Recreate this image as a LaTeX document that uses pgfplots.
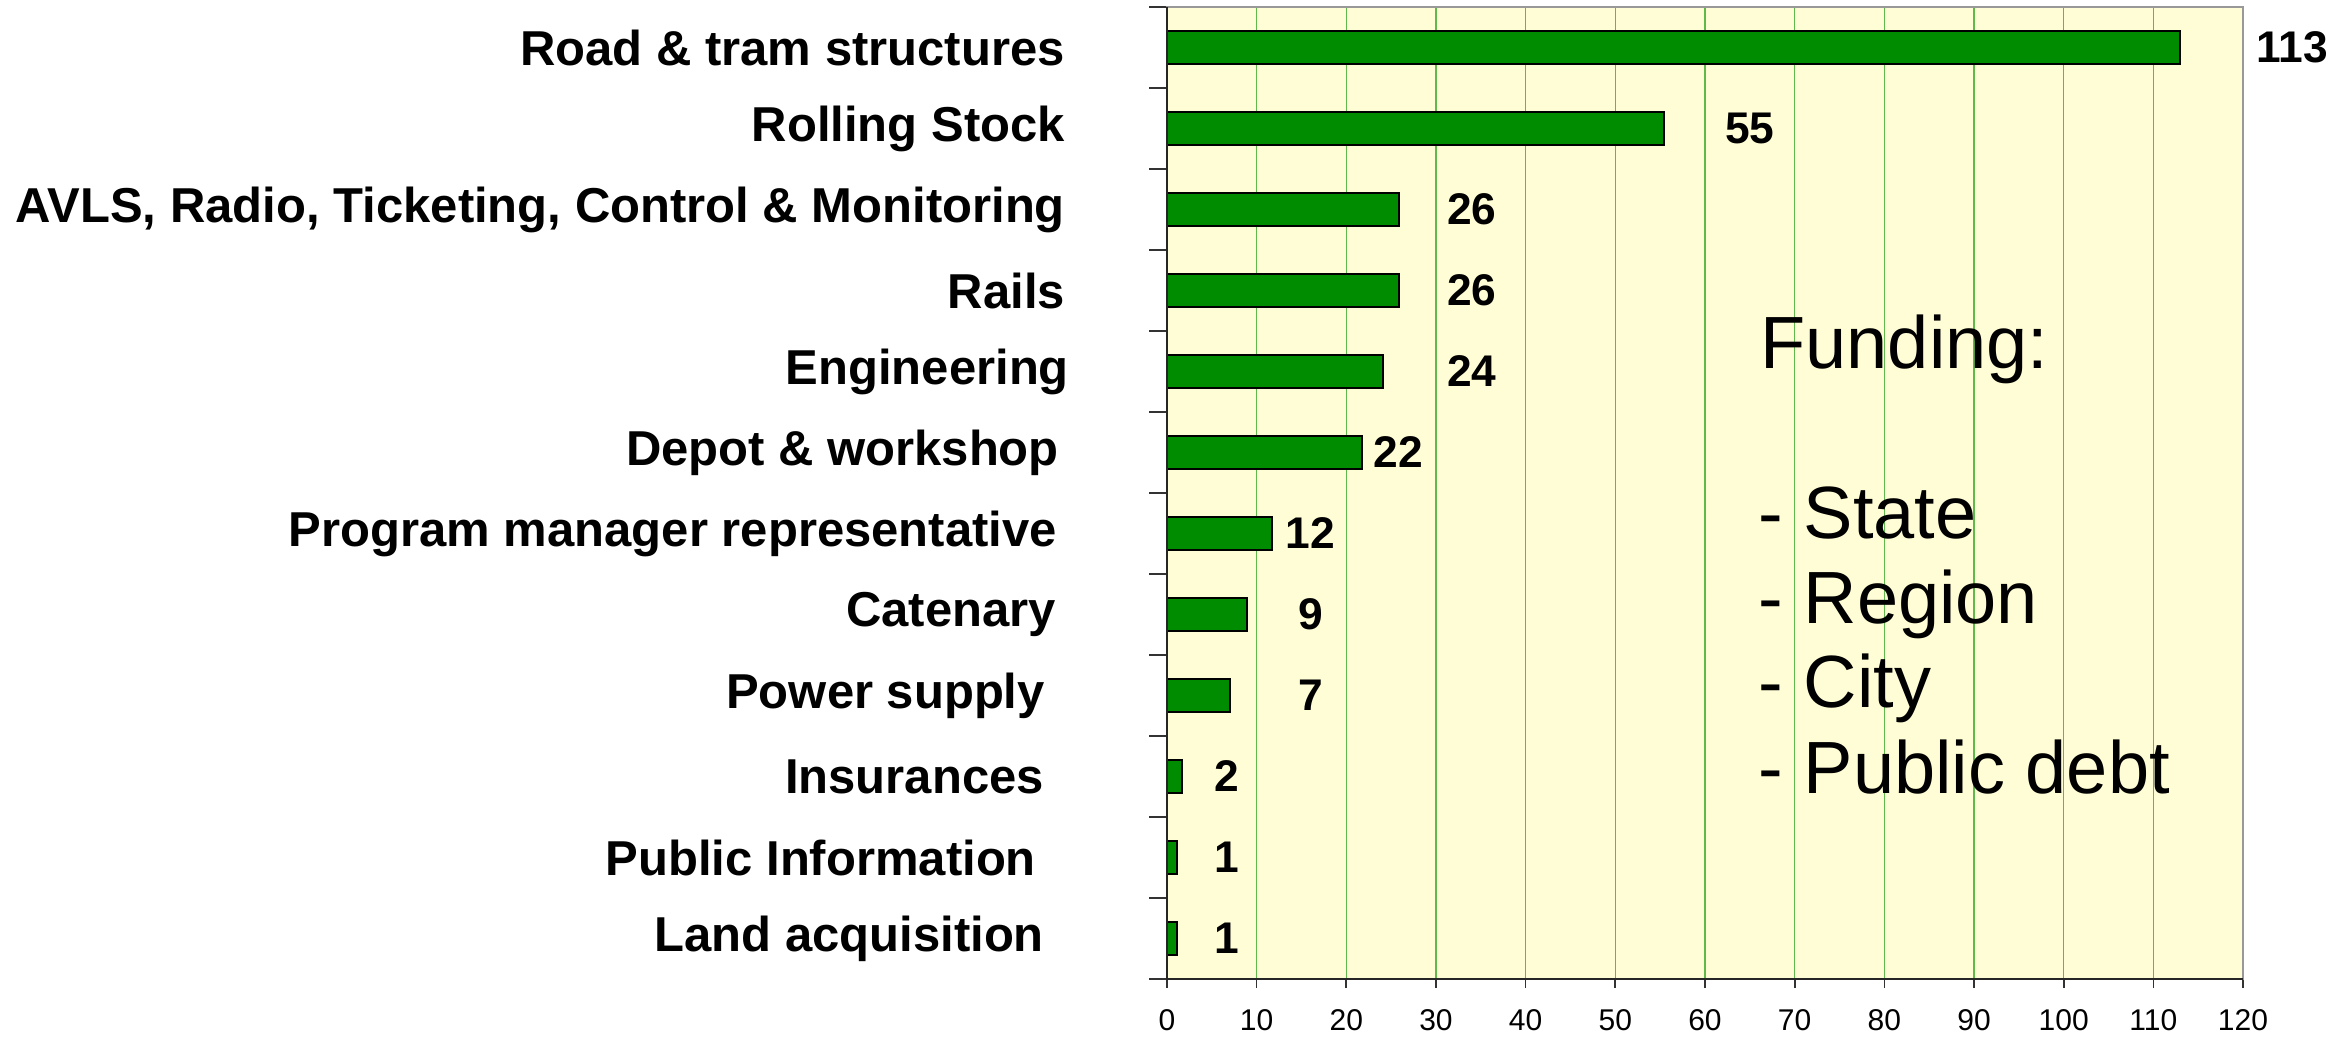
\documentclass[border=0pt]{standalone}
\usepackage{pgfplots}
\pgfplotsset{compat=1.18}
\usepackage{fontspec}
\setmainfont{Liberation Sans}
\definecolor{barg}{RGB}{0,140,0}
\definecolor{bgy}{RGB}{255,253,213}
\definecolor{gridg}{RGB}{95,185,75}
\newcommand{\tr}[1]{\rule{#1}{0pt}}
\begin{document}
\begin{tikzpicture}
\begin{axis}[
  scale only axis,
  width=322.8pt, height=291.6pt,
  xmin=0, xmax=120, ymin=-0.5, ymax=11.5,
  xtick={0,10,...,120},
  ytick={0,...,11},
  yticklabels={Land acquisition\tr{6.3pt},Public Information\tr{8.7pt},Insurances\tr{6.3pt},Power supply\tr{6pt},Catenary\tr{2.7pt},Program manager representative\tr{2.4pt},Depot \& workshop\tr{1.8pt},Engineering\kern-1.2pt,Rails,{AVLS, Radio, Ticketing, Control \& Monitoring},Rolling Stock,Road \& tram structures},
  minor ytick={-0.5,0.5,...,11.5},
  tick align=outside,
  xtick pos=left, ytick pos=left,
  major tick length=2.7pt,
  minor tick length=5.3pt,
  major y tick style={draw=none},
  minor y tick style={black!80, line width=0.5pt},
  major x tick style={black!80, line width=0.5pt},
  xmajorgrids,
  major grid style={gridg, line width=0.4pt},
  axis line style={black!40, line width=0.6pt},
  axis background/.style={fill=bgy},
  yticklabel style={font=\fontsize{14.7}{17}\selectfont\bfseries, xshift=-24.4pt},
  xticklabel style={font=\fontsize{9}{11}\selectfont, inner sep=0.5pt, yshift=-5.8pt},
  /pgf/number format/assume math mode=true,
  clip=false,
]
\addplot[xbar, bar width=9.9pt, fill=barg, draw=black, line width=0.6pt] coordinates {
  (1.1,0) (1.1,1) (1.7,2) (7.0,3) (8.9,4) (11.7,5) (21.7,6) (24.1,7) (25.9,8) (25.9,9) (55.4,10) (113,11)
};
\addplot[draw=none, mark=none, nodes near coords, point meta=explicit symbolic,
  every node near coord/.style={anchor=center, inner sep=0pt, font=\fontsize{13.3}{16}\selectfont\bfseries}] coordinates {
  (6.7,0) [1] (6.7,1) [1] (6.7,2) [2] (16,3) [7] (16,4) [9] (16,5) [12] (25.8,6) [22] (34,7) [24] (34,8) [26] (34,9) [26] (65,10) [55] (125.5,11) [113]
};
\draw[black!85, line width=0.6pt] (axis cs:0,11.5) -- (axis cs:0,-0.5) -- (axis cs:120,-0.5);
\begin{scope}[every node/.style={anchor=base west, inner sep=0pt, font=\fontsize{22.2}{26}\selectfont}]
\node at (axis cs:66.1,7.043) {Funding:};
\node at (axis cs:65.9,4.944) {- State};
\node at (axis cs:65.9,3.895) {- Region};
\node at (axis cs:65.9,2.846) {- City};
\node at (axis cs:65.9,1.796) {- Public debt};
\end{scope}
\coordinate (O) at (axis cs:0,-0.5);
\end{axis}
\pgfresetboundingbox
\path[use as bounding box] (O) ++(-350.1pt,-17.1pt) rectangle ++(702.9pt,310.8pt);
\end{tikzpicture}
\end{document}
